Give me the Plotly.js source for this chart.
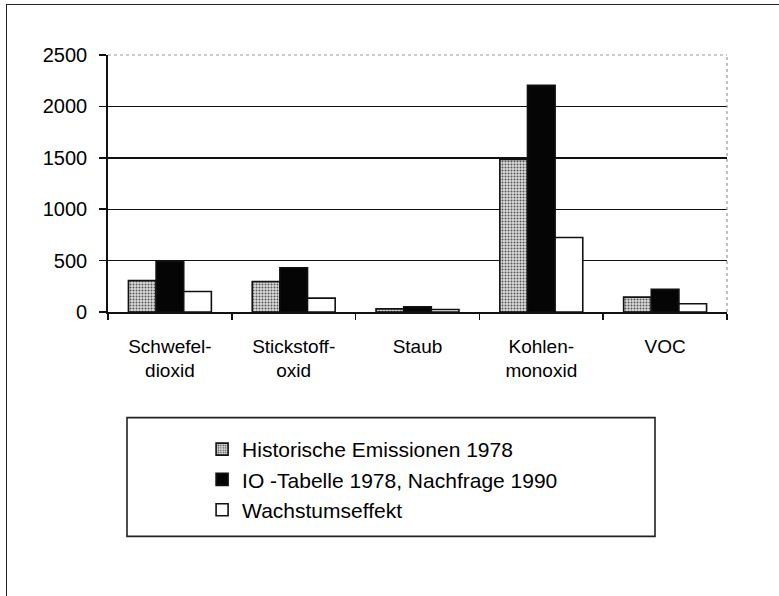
<!DOCTYPE html>
<html>
<head>
<meta charset="utf-8">
<script src="https://cdn.plot.ly/plotly-3.0.1.min.js"></script>
<style>
  html, body { margin: 0; padding: 0; background: #fff; }
  #wrap { position: relative; width: 779px; height: 596px; }
  #chart { position: absolute; left: 0; top: 0; width: 779px; height: 596px; }
  #frame { position: absolute; left: 6px; top: 4px; right: -2px; bottom: -2px;
           border-top: 1.6px solid #222; border-left: 1.6px solid #222; pointer-events: none; }
</style>
</head>
<body>
<div id="wrap">
  <div id="chart"></div>
  <div id="frame"></div>
</div>
<script>
// ---- data ----
const categories = ["Schwefel-<br>dioxid", "Stickstoff-<br>oxid", "Staub", "Kohlen-<br>monoxid", "VOC"];
const seriesNames = ["Historische Emissionen 1978", "IO -Tabelle 1978, Nachfrage 1990", "Wachstumseffekt"];
const historisch = [305, 295, 30, 1485, 145];
const ioTabelle = [495, 430, 50, 2205, 220];
const wachstum = [200, 135, 25, 725, 80];
const yTicks = [0, 500, 1000, 1500, 2000, 2500];
const yGrid = [500, 1000, 1500, 2000];

const FONT = "Liberation Sans, Arial, sans-serif";

const traces = [
  {
    type: "bar", name: seriesNames[0], x: categories, y: historisch,
    marker: { color: "#d0d0d0", line: { color: "#111", width: 1.6 },
              pattern: { shape: ".", fgcolor: "#555", bgcolor: "#dcdcdc", size: 3, solidity: 0.35 } }
  },
  {
    type: "bar", name: seriesNames[1], x: categories, y: ioTabelle,
    marker: { color: "#050505", line: { color: "#111", width: 1.6 } }
  },
  {
    type: "bar", name: seriesNames[2], x: categories, y: wachstum,
    marker: { color: "#ffffff", line: { color: "#111", width: 1.6 } }
  }
];

const layout = {
  width: 779, height: 596,
  margin: { l: 108, r: 52, t: 55, b: 284, pad: 0 },
  paper_bgcolor: "rgba(0,0,0,0)", plot_bgcolor: "rgba(0,0,0,0)",
  font: { family: FONT, size: 20, color: "#000" },
  barmode: "group", bargap: 0.33, bargroupgap: 0,
  showlegend: true,
  legend: {
    x: 0.152, xanchor: "left", y: -0.455, yanchor: "top",
    orientation: "v", bgcolor: "rgba(0,0,0,0)", borderwidth: 0,
    font: { family: FONT, size: 21, color: "#000" },
    traceorder: "normal", itemclick: false
  },
  xaxis: {
    type: "category", showline: true, linecolor: "#111", linewidth: 1.8,
    ticks: "outside", tickson: "boundaries", ticklen: 6, tickwidth: 1.5, tickcolor: "#111",
    showgrid: false, tickfont: { family: FONT, size: 19, color: "#000" },
    ticklabelstandoff: 16, fixedrange: true
  },
  yaxis: {
    range: [0, 2500], tickmode: "array", tickvals: yTicks, ticktext: yTicks.map(String),
    showline: true, linecolor: "#111", linewidth: 1.8,
    ticks: "outside", ticklen: 7, tickwidth: 1.5, tickcolor: "#111",
    showgrid: false, zeroline: false,
    tickfont: { family: FONT, size: 20, color: "#000" }, ticklabelstandoff: 8,
    minor: { tickmode: "array", tickvals: yGrid, showgrid: true, gridcolor: "#111", gridwidth: 1.4, ticks: "" },
    fixedrange: true
  },
  shapes: [
    { type: "line", xref: "paper", yref: "paper", x0: 0, x1: 1, y0: 1, y1: 1,
      line: { color: "#999", width: 1.2, dash: "dot" } },
    { type: "line", xref: "paper", yref: "paper", x0: 1, x1: 1, y0: 0, y1: 1,
      line: { color: "#999", width: 1.2, dash: "dot" } },
    { type: "rect", xref: "paper", yref: "paper", x0: 0.0307, x1: 0.8837, y0: -0.411, y1: -0.873,
      line: { color: "#222", width: 1.6 }, fillcolor: "rgba(0,0,0,0)" }
  ]
};

Plotly.newPlot("chart", traces, layout, { displayModeBar: false, staticPlot: true });
</script>
</body>
</html>
